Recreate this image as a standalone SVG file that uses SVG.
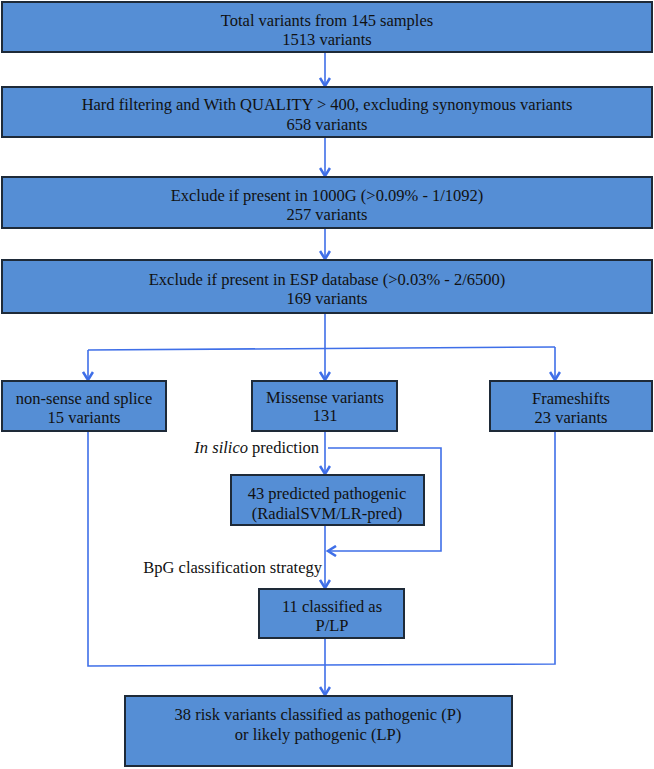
<svg xmlns="http://www.w3.org/2000/svg" width="654" height="769" viewBox="0 0 654 769">
<defs>
<marker id="arr" viewBox="0 0 12 12" refX="10" refY="6" markerWidth="12" markerHeight="12" markerUnits="userSpaceOnUse" orient="auto">
<path d="M2,1 L10,6 L2,11" fill="none" stroke="#3F6FE8" stroke-width="2.6"/>
</marker>
</defs>
<style>
.box{fill:#558ED5;stroke:#1E2A38;stroke-width:2}
text{font-family:'Liberation Serif','Times New Roman',Times,serif;font-size:16.5px;fill:#111}
.t{text-anchor:middle;dominant-baseline:central}
.lbl{text-anchor:end}
.c{fill:none;stroke:#3F6FE8;stroke-width:1.6}
.ca{fill:none;stroke:#3F6FE8;stroke-width:1.6;marker-end:url(#arr)}
</style>
<rect width="654" height="769" fill="#fff"/>
<g id="connectors">
<line class="ca" x1="325" y1="52" x2="325" y2="86"/>
<line class="ca" x1="325" y1="137" x2="325" y2="176"/>
<line class="ca" x1="325" y1="228" x2="325" y2="259"/>
<polyline class="c" points="325,313 325,349"/>
<polyline class="c" points="88,350 555,347"/>
<polyline class="ca" points="88,350 88,380"/>
<polyline class="ca" points="325,349 325,380"/>
<polyline class="ca" points="555,347 555,380"/>
<line class="ca" x1="325" y1="431" x2="325" y2="474"/>
<polyline class="ca" points="328,448 441,448 441,551 328,551"/>
<line class="ca" x1="325" y1="525" x2="325" y2="588"/>
<polyline class="c" points="88,431 88,666 555,664 555,431"/>
<line class="ca" x1="325" y1="638" x2="325" y2="695"/>
</g>
<g font-family="Liberation Serif, serif">
<g id="n1"><rect class="box" x="2" y="2" width="650" height="50"/><text class="t" x="327" y="20">Total variants from 145 samples</text><text class="t" x="327" y="39">1513 variants</text></g>
<g id="n2"><rect class="box" x="2" y="87" width="650" height="50"/><text class="t" x="327" y="104">Hard filtering and With QUALITY &gt; 400, excluding synonymous variants</text><text class="t" x="327" y="124">658 variants</text></g>
<g id="n3"><rect class="box" x="2" y="177" width="650" height="51"/><text class="t" x="327" y="195">Exclude if present in 1000G (&gt;0.09% - 1/1092)</text><text class="t" x="327" y="214">257 variants</text></g>
<g id="n4"><rect class="box" x="2" y="260" width="650" height="53"/><text class="t" x="327" y="279">Exclude if present in ESP database (&gt;0.03% - 2/6500)</text><text class="t" x="327" y="298">169 variants</text></g>
<g id="n5"><rect class="box" x="2" y="381" width="164" height="50"/><text class="t" x="84" y="398">non-sense and splice</text><text class="t" x="84" y="417">15 variants</text></g>
<g id="n6"><rect class="box" x="252" y="381" width="145" height="50"/><text class="t" x="325" y="397">Missense variants</text><text class="t" x="325" y="415">131</text></g>
<g id="n7"><rect class="box" x="490" y="381" width="162" height="50"/><text class="t" x="571" y="398">Frameshifts</text><text class="t" x="571" y="417">23 variants</text></g>
<g id="l1"><text class="lbl" x="319" y="453"><tspan font-style="italic">In silico</tspan> prediction</text></g>
<g id="n8"><rect class="box" x="231" y="475" width="193" height="50"/><text class="t" x="327" y="493">43 predicted pathogenic</text><text class="t" x="327" y="513">(RadialSVM/LR-pred)</text></g>
<g id="l2"><text class="lbl" x="322" y="573">BpG classification strategy</text></g>
<g id="n9"><rect class="box" x="259" y="589" width="145" height="49"/><text class="t" x="332" y="606">11 classified as</text><text class="t" x="332" y="625">P/LP</text></g>
<g id="n10"><rect class="box" x="125" y="696" width="387" height="70"/><text class="t" x="318" y="714">38 risk variants classified as pathogenic (P)</text><text class="t" x="318" y="734">or likely pathogenic (LP)</text></g>
</g>
</svg>
